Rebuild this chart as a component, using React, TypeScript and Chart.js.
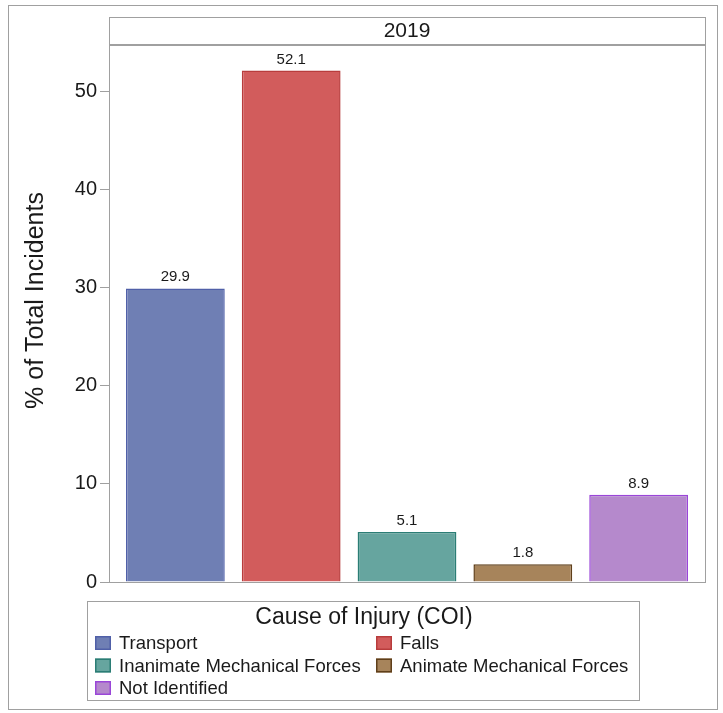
import React, { useEffect, useRef } from 'react';
import { Chart, registerables } from 'chart.js';

Chart.register(...registerables);

const categories = ['Transport', 'Falls', 'Inanimate Mechanical Forces', 'Animate Mechanical Forces', 'Not Identified'];
const values = [29.9, 52.1, 5.1, 1.8, 8.9];
const fillColors = ['#6f7fb4', '#d25c5c', '#66a59f', '#a7845b', '#b589cc'];
const borderColors = ['#5060a8', '#b83c3c', '#2b7d75', '#5f3f1a', '#9a46d8'];
const yTicks = [0, 10, 20, 30, 40, 50];
const panelLabel = '2019';
const legendTitle = 'Cause of Injury (COI)';
const yTitle = '% of Total Incidents';

const FONT = "'Liberation Sans', Arial, sans-serif";
const FRAME = '#a0a0a0';
const TEXT = '#1a1a1a';

const decorPlugin = {
  id: 'decor',
  beforeDraw(chart: any) {
    const { ctx, chartArea } = chart;
    ctx.save();
    ctx.fillStyle = '#ffffff';
    ctx.fillRect(0, 0, chart.width, chart.height);
    ctx.strokeStyle = FRAME;
    ctx.lineWidth = 1;
    // outer border
    ctx.strokeRect(8.5, 5.5, 709, 704);
    // header box
    ctx.strokeRect(chartArea.left + 0.5, 17.5, chartArea.right - chartArea.left, 27);
    ctx.fillStyle = TEXT;
    ctx.font = `21px ${FONT}`;
    ctx.textAlign = 'center';
    ctx.textBaseline = 'middle';
    ctx.fillText(panelLabel, (chartArea.left + chartArea.right) / 2, 31.5);
    // y axis title
    ctx.save();
    ctx.translate(36, 300.5);
    ctx.rotate(-Math.PI / 2);
    ctx.font = `25px ${FONT}`;
    ctx.fillText(yTitle, 0, 0);
    ctx.restore();
    ctx.restore();
  },
  afterDatasetsDraw(chart: any) {
    const { ctx, chartArea } = chart;
    ctx.save();
    ctx.strokeStyle = FRAME;
    ctx.lineWidth = 1;
    ctx.strokeRect(chartArea.left + 0.5, chartArea.top + 0.5, chartArea.right - chartArea.left, chartArea.bottom - chartArea.top);
    // data labels
    const meta = chart.getDatasetMeta(0);
    ctx.fillStyle = TEXT;
    ctx.font = `15px ${FONT}`;
    ctx.textAlign = 'center';
    ctx.textBaseline = 'alphabetic';
    meta.data.forEach((bar: any, i: number) => {
      ctx.fillText(values[i].toFixed(1), bar.x, bar.y - 7);
    });
    // legend
    const lx = 87, ly = 601, lw = 552, lh = 99;
    ctx.strokeStyle = FRAME;
    ctx.strokeRect(lx + 0.5, ly + 0.5, lw, lh);
    ctx.font = `23px ${FONT}`;
    ctx.textAlign = 'center';
    ctx.textBaseline = 'middle';
    ctx.fillStyle = TEXT;
    ctx.fillText(legendTitle, lx + lw / 2 + 1, 618);
    ctx.font = `18.5px ${FONT}`;
    ctx.textAlign = 'left';
    const colX = [95, 376];
    const rowY = [643, 665.5, 688];
    categories.forEach((c, i) => {
      const col = i % 2;
      const row = Math.floor(i / 2);
      const px = colX[col];
      const py = rowY[row];
      ctx.fillStyle = fillColors[i];
      ctx.fillRect(px, py - 7, 16, 14);
      ctx.strokeStyle = borderColors[i];
      ctx.lineWidth = 1.5;
      ctx.strokeRect(px + 0.75, py - 6.25, 14.5, 12.5);
      ctx.fillStyle = TEXT;
      ctx.fillText(c, px + 24, py + 1);
    });
    ctx.restore();
  },
};

export default function App() {
  const ref = useRef<HTMLCanvasElement | null>(null);
  useEffect(() => {
    if (!ref.current) return;
    const chart = new Chart(ref.current, {
      type: 'bar',
      data: {
        labels: categories,
        datasets: [
          {
            data: values.map((v, i) => ({ x: i, y: v })) as any,
            backgroundColor: fillColors,
            borderColor: borderColors,
            borderWidth: 1.5,
            barPercentage: 0.853,
            categoryPercentage: 1,
          },
        ],
      },
      options: {
        animation: false,
        responsive: false,
        maintainAspectRatio: false,
        devicePixelRatio: 1,
        layout: { padding: { left: 8, right: 18, top: 45, bottom: 131 } },
        plugins: { legend: { display: false }, tooltip: { enabled: false }, title: { display: false } },
        scales: {
          x: {
            type: 'linear',
            min: -0.573,
            max: 4.573,
            bounds: 'data',
            offset: false,
            display: false,
            afterBuildTicks: (s: any) => {
              s.ticks = categories.map((_, i) => ({ value: i }));
            },
          },
          y: {
            min: 0,
            max: 54.7,
            afterFit: (s: any) => {
              s.width = 101;
            },
            afterBuildTicks: (s: any) => {
              s.ticks = yTicks.map((v) => ({ value: v }));
            },
            ticks: {
              font: { family: FONT, size: 20 },
              color: TEXT,
              padding: 3,
            },
            grid: {
              display: true,
              drawOnChartArea: false,
              drawTicks: true,
              tickLength: 9,
              color: FRAME,
            },
            border: { display: true, color: FRAME },
            title: { display: false },
          },
        },
      },
      plugins: [decorPlugin],
    } as any);
    return () => chart.destroy();
  }, []);
  return (
    <div style={{ position: 'fixed', left: 0, top: 0, width: 723, height: 713 }}>
      <canvas ref={ref} width={723} height={713} style={{ display: 'block', width: 723, height: 713 }} />
    </div>
  );
}
